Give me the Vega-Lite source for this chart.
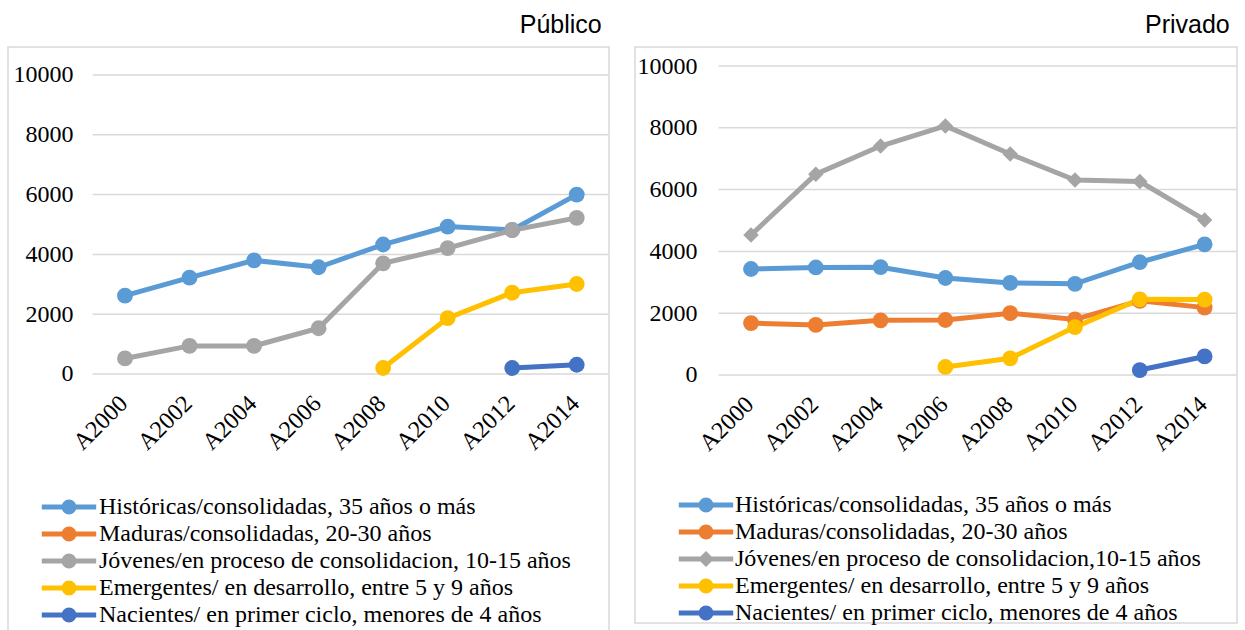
{
  "$schema": "https://vega.github.io/schema/vega-lite/v6.json",
  "padding": {"left": 7, "top": 12, "right": 0, "bottom": 0},
  "background": "white",
  "datasets": {
    "grid": [{"g": 0}, {"g": 2000}, {"g": 4000}, {"g": 6000}, {"g": 8000}, {"g": 10000}],
    "publico": [
      {"serie": "Históricas/consolidadas, 35 años o más", "anio": 2000, "valor": 2620},
      {"serie": "Históricas/consolidadas, 35 años o más", "anio": 2002, "valor": 3220},
      {"serie": "Históricas/consolidadas, 35 años o más", "anio": 2004, "valor": 3800},
      {"serie": "Históricas/consolidadas, 35 años o más", "anio": 2006, "valor": 3570},
      {"serie": "Históricas/consolidadas, 35 años o más", "anio": 2008, "valor": 4330},
      {"serie": "Históricas/consolidadas, 35 años o más", "anio": 2010, "valor": 4930},
      {"serie": "Históricas/consolidadas, 35 años o más", "anio": 2012, "valor": 4820},
      {"serie": "Históricas/consolidadas, 35 años o más", "anio": 2014, "valor": 6000},
      {"serie": "Jóvenes/en proceso de consolidacion, 10-15 años", "anio": 2000, "valor": 520},
      {"serie": "Jóvenes/en proceso de consolidacion, 10-15 años", "anio": 2002, "valor": 940},
      {"serie": "Jóvenes/en proceso de consolidacion, 10-15 años", "anio": 2004, "valor": 940},
      {"serie": "Jóvenes/en proceso de consolidacion, 10-15 años", "anio": 2006, "valor": 1530},
      {"serie": "Jóvenes/en proceso de consolidacion, 10-15 años", "anio": 2008, "valor": 3700},
      {"serie": "Jóvenes/en proceso de consolidacion, 10-15 años", "anio": 2010, "valor": 4210},
      {"serie": "Jóvenes/en proceso de consolidacion, 10-15 años", "anio": 2012, "valor": 4810},
      {"serie": "Jóvenes/en proceso de consolidacion, 10-15 años", "anio": 2014, "valor": 5220},
      {"serie": "Emergentes/ en desarrollo, entre 5 y 9 años", "anio": 2008, "valor": 200},
      {"serie": "Emergentes/ en desarrollo, entre 5 y 9 años", "anio": 2010, "valor": 1870},
      {"serie": "Emergentes/ en desarrollo, entre 5 y 9 años", "anio": 2012, "valor": 2720},
      {"serie": "Emergentes/ en desarrollo, entre 5 y 9 años", "anio": 2014, "valor": 3010},
      {"serie": "Nacientes/ en primer ciclo, menores de 4 años", "anio": 2012, "valor": 200},
      {"serie": "Nacientes/ en primer ciclo, menores de 4 años", "anio": 2014, "valor": 310}
    ],
    "privado": [
      {"serie": "Históricas/consolidadas, 35 años o más", "anio": 2000, "valor": 3430},
      {"serie": "Históricas/consolidadas, 35 años o más", "anio": 2002, "valor": 3480},
      {"serie": "Históricas/consolidadas, 35 años o más", "anio": 2004, "valor": 3490},
      {"serie": "Históricas/consolidadas, 35 años o más", "anio": 2006, "valor": 3140},
      {"serie": "Históricas/consolidadas, 35 años o más", "anio": 2008, "valor": 2980},
      {"serie": "Históricas/consolidadas, 35 años o más", "anio": 2010, "valor": 2950},
      {"serie": "Históricas/consolidadas, 35 años o más", "anio": 2012, "valor": 3650},
      {"serie": "Históricas/consolidadas, 35 años o más", "anio": 2014, "valor": 4230},
      {"serie": "Maduras/consolidadas, 20-30 años", "anio": 2000, "valor": 1680},
      {"serie": "Maduras/consolidadas, 20-30 años", "anio": 2002, "valor": 1620},
      {"serie": "Maduras/consolidadas, 20-30 años", "anio": 2004, "valor": 1770},
      {"serie": "Maduras/consolidadas, 20-30 años", "anio": 2006, "valor": 1780},
      {"serie": "Maduras/consolidadas, 20-30 años", "anio": 2008, "valor": 2000},
      {"serie": "Maduras/consolidadas, 20-30 años", "anio": 2010, "valor": 1800},
      {"serie": "Maduras/consolidadas, 20-30 años", "anio": 2012, "valor": 2400},
      {"serie": "Maduras/consolidadas, 20-30 años", "anio": 2014, "valor": 2180},
      {"serie": "Jóvenes/en proceso de consolidacion,10-15 años", "anio": 2000, "valor": 4530},
      {"serie": "Jóvenes/en proceso de consolidacion,10-15 años", "anio": 2002, "valor": 6500},
      {"serie": "Jóvenes/en proceso de consolidacion,10-15 años", "anio": 2004, "valor": 7410},
      {"serie": "Jóvenes/en proceso de consolidacion,10-15 años", "anio": 2006, "valor": 8060},
      {"serie": "Jóvenes/en proceso de consolidacion,10-15 años", "anio": 2008, "valor": 7150},
      {"serie": "Jóvenes/en proceso de consolidacion,10-15 años", "anio": 2010, "valor": 6310},
      {"serie": "Jóvenes/en proceso de consolidacion,10-15 años", "anio": 2012, "valor": 6260},
      {"serie": "Jóvenes/en proceso de consolidacion,10-15 años", "anio": 2014, "valor": 5020},
      {"serie": "Emergentes/ en desarrollo, entre 5 y 9 años", "anio": 2006, "valor": 260},
      {"serie": "Emergentes/ en desarrollo, entre 5 y 9 años", "anio": 2008, "valor": 540},
      {"serie": "Emergentes/ en desarrollo, entre 5 y 9 años", "anio": 2010, "valor": 1550},
      {"serie": "Emergentes/ en desarrollo, entre 5 y 9 años", "anio": 2012, "valor": 2450},
      {"serie": "Emergentes/ en desarrollo, entre 5 y 9 años", "anio": 2014, "valor": 2440},
      {"serie": "Nacientes/ en primer ciclo, menores de 4 años", "anio": 2012, "valor": 160},
      {"serie": "Nacientes/ en primer ciclo, menores de 4 años", "anio": 2014, "valor": 600}
    ]
  },
  "spacing": 23,
  "resolve": {
    "scale": {"x": "independent", "y": "independent", "color": "independent"},
    "legend": {"color": "independent"}
  },
  "hconcat": [
    {
      "width": 601,
      "height": 590,
      "title": {"text": "Público", "anchor": "end", "font": "Liberation Sans", "fontSize": 25, "fontWeight": "normal", "color": "#000000", "baseline": "alphabetic", "offset": -11, "dx": -8},
      "layer": [
        {
          "data": {"name": "grid"},
          "mark": {"type": "rule", "stroke": "#D9D9D9", "strokeWidth": 1.5},
          "encoding": {
            "y": {"field": "g", "type": "quantitative", "scale": {"domain": [-8796, 10936], "nice": false, "zero": false}},
            "x": {"datum": 1999, "type": "quantitative", "scale": {"domain": [1996.374, 2015.0], "nice": false, "zero": false}},
            "x2": {"datum": 2015}
          }
        },
        {
          "data": {"name": "publico"},
          "mark": {"type": "line", "strokeWidth": 5},
          "encoding": {
            "x": {"field": "anio", "type": "quantitative", "scale": {"domain": [1996.374, 2015.0], "nice": false, "zero": false},
              "axis": {"values": [2000, 2002, 2004, 2006, 2008, 2010, 2012, 2014], "labelExpr": "'A' + datum.value", "labelAngle": -45, "labelFont": "Liberation Serif", "labelFontSize": 24, "labelColor": "#000000", "ticks": false, "domain": false, "grid": false, "title": null, "offset": -263, "labelPadding": 17, "labelOffset": -10, "labelFlush": false, "labelOverlap": false}},
            "y": {"field": "valor", "type": "quantitative", "scale": {"domain": [-8796, 10936], "nice": false, "zero": false},
              "axis": {"values": [0, 2000, 4000, 6000, 8000, 10000], "format": "d", "labelFont": "Liberation Serif", "labelFontSize": 24, "labelColor": "#000000", "ticks": false, "domain": false, "grid": false, "title": null, "offset": -85, "labelPadding": 20, "labelFlush": false}},
            "color": {"field": "serie", "type": "nominal",
              "scale": {"domain": ["Históricas/consolidadas, 35 años o más", "Maduras/consolidadas, 20-30 años", "Jóvenes/en proceso de consolidacion, 10-15 años", "Emergentes/ en desarrollo, entre 5 y 9 años", "Nacientes/ en primer ciclo, menores de 4 años"],
                "range": ["#5B9BD5", "#ED7D31", "#A5A5A5", "#FFC000", "#4472C4"]},
              "legend": {"orient": "none", "legendX": 49, "legendY": 448, "title": null, "padding": 0, "labelFont": "Liberation Serif", "labelFontSize": 24, "labelColor": "#000000", "labelLimit": 800, "symbolSize": 256, "symbolStrokeWidth": 5, "labelOffset": 18, "rowPadding": -4.5,
                "symbolType": "M-3.4,0L3.4,0M0.625,0A0.625,0.625,0,1,1,-0.625,0A0.625,0.625,0,1,1,0.625,0M0.19,0A0.19,0.19,0,1,1,-0.19,0A0.19,0.19,0,1,1,0.19,0"}}
          }
        },
        {
          "data": {"name": "publico"},
          "mark": {"type": "point", "filled": true, "opacity": 1, "size": 250, "shape": "circle"},
          "encoding": {
            "x": {"field": "anio", "type": "quantitative", "scale": {"domain": [1996.374, 2015.0], "nice": false, "zero": false}},
            "y": {"field": "valor", "type": "quantitative", "scale": {"domain": [-8796, 10936], "nice": false, "zero": false}},
            "color": {"field": "serie", "type": "nominal", "legend": null}
          }
        }
      ]
    },
    {
      "width": 602,
      "height": 576,
      "title": {"text": "Privado", "anchor": "end", "font": "Liberation Sans", "fontSize": 25, "fontWeight": "normal", "color": "#000000", "baseline": "alphabetic", "offset": -11, "dx": -8},
      "layer": [
        {
          "data": {"name": "grid"},
          "mark": {"type": "rule", "stroke": "#D9D9D9", "strokeWidth": 1.5},
          "encoding": {
            "y": {"field": "g", "type": "quantitative", "scale": {"domain": [-8026, 10615], "nice": false, "zero": false}},
            "x": {"datum": 1999, "type": "quantitative", "scale": {"domain": [1996.42, 2015.0], "nice": false, "zero": false}},
            "x2": {"datum": 2015}
          }
        },
        {
          "data": {"name": "privado"},
          "mark": {"type": "line", "strokeWidth": 5},
          "encoding": {
            "x": {"field": "anio", "type": "quantitative", "scale": {"domain": [1996.42, 2015.0], "nice": false, "zero": false},
              "axis": {"values": [2000, 2002, 2004, 2006, 2008, 2010, 2012, 2014], "labelExpr": "'A' + datum.value", "labelAngle": -45, "labelFont": "Liberation Serif", "labelFontSize": 24, "labelColor": "#000000", "ticks": false, "domain": false, "grid": false, "title": null, "offset": -248, "labelPadding": 17, "labelOffset": -10, "labelFlush": false, "labelOverlap": false}},
            "y": {"field": "valor", "type": "quantitative", "scale": {"domain": [-8026, 10615], "nice": false, "zero": false},
              "axis": {"values": [0, 2000, 4000, 6000, 8000, 10000], "format": "d", "labelFont": "Liberation Serif", "labelFontSize": 24, "labelColor": "#000000", "ticks": false, "domain": false, "grid": false, "title": null, "offset": -84, "labelPadding": 22, "labelFlush": false}},
            "color": {"field": "serie", "type": "nominal",
              "scale": {"domain": ["Históricas/consolidadas, 35 años o más", "Maduras/consolidadas, 20-30 años", "Jóvenes/en proceso de consolidacion,10-15 años", "Emergentes/ en desarrollo, entre 5 y 9 años", "Nacientes/ en primer ciclo, menores de 4 años"],
                "range": ["#5B9BD5", "#ED7D31", "#A5A5A5", "#FFC000", "#4472C4"]},
              "legend": {"orient": "none", "legendX": 59, "legendY": 446, "title": null, "padding": 0, "labelFont": "Liberation Serif", "labelFontSize": 24, "labelColor": "#000000", "labelLimit": 800, "symbolSize": 256, "symbolStrokeWidth": 5, "labelOffset": 17, "rowPadding": -4.5,
                "symbolType": "M-3.4,0L3.4,0M0.625,0A0.625,0.625,0,1,1,-0.625,0A0.625,0.625,0,1,1,0.625,0M0.19,0A0.19,0.19,0,1,1,-0.19,0A0.19,0.19,0,1,1,0.19,0",
                "encode": {"symbols": {"update": {"shape": {"signal": "datum.value === 'Jóvenes/en proceso de consolidacion,10-15 años' ? 'M-3.4,0L3.4,0M0,-0.56L0.56,0L0,0.56L-0.56,0ZM0,-0.12L0.12,0L0,0.12L-0.12,0Z' : 'M-3.4,0L3.4,0M0.625,0A0.625,0.625,0,1,1,-0.625,0A0.625,0.625,0,1,1,0.625,0M0.19,0A0.19,0.19,0,1,1,-0.19,0A0.19,0.19,0,1,1,0.19,0'"}}}}}}
          }
        },
        {
          "data": {"name": "privado"},
          "transform": [{"filter": "datum.serie !== 'Jóvenes/en proceso de consolidacion,10-15 años'"}],
          "mark": {"type": "point", "filled": true, "opacity": 1, "size": 250, "shape": "circle"},
          "encoding": {
            "x": {"field": "anio", "type": "quantitative", "scale": {"domain": [1996.42, 2015.0], "nice": false, "zero": false}},
            "y": {"field": "valor", "type": "quantitative", "scale": {"domain": [-8026, 10615], "nice": false, "zero": false}},
            "color": {"field": "serie", "type": "nominal", "legend": null}
          }
        },
        {
          "data": {"name": "privado"},
          "transform": [{"filter": "datum.serie === 'Jóvenes/en proceso de consolidacion,10-15 años'"}],
          "mark": {"type": "point", "filled": true, "opacity": 1, "size": 240, "shape": "diamond"},
          "encoding": {
            "x": {"field": "anio", "type": "quantitative", "scale": {"domain": [1996.42, 2015.0], "nice": false, "zero": false}},
            "y": {"field": "valor", "type": "quantitative", "scale": {"domain": [-8026, 10615], "nice": false, "zero": false}},
            "color": {"field": "serie", "type": "nominal", "legend": null}
          }
        }
      ]
    }
  ],
  "config": {
    "view": {"stroke": "#D9D9D9", "strokeWidth": 1.5},
    "font": "Liberation Serif"
  }
}
